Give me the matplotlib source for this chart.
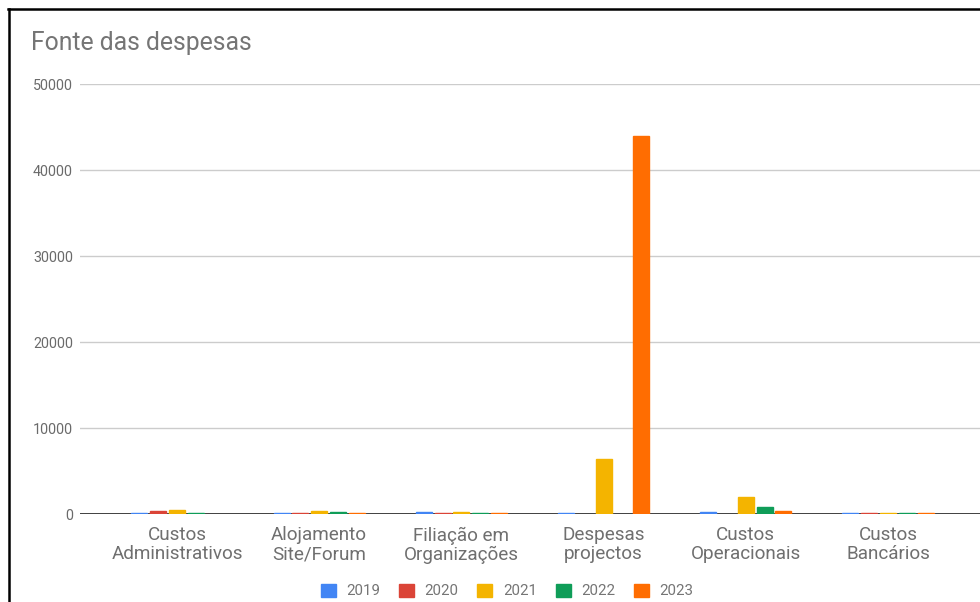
import numpy as np
import matplotlib.pyplot as plt
from matplotlib.patches import Patch
from matplotlib.lines import Line2D

plt.rcParams['font.family'] = ['Roboto', 'DejaVu Sans']

categories = ["Custos\nAdministrativos", "Alojamento\nSite/Forum", "Filiação em\nOrganizações",
              "Despesas\nprojectos", "Custos\nOperacionais", "Custos\nBancários"]
years = ["2019", "2020", "2021", "2022", "2023"]
nan = np.nan
v2019 = [60, 60, 200, 60, 200, 60]
v2020 = [350, 150, 60, nan, nan, 60]
v2021 = [450, 300, 180, 6400, 1950, 60]
v2022 = [60, 200, 60, nan, 780, 60]
v2023 = [nan, 170, 60, 43900, 310, 60]
series = [v2019, v2020, v2021, v2022, v2023]
colors = ["#4285F4", "#DB4437", "#F4B400", "#0F9D58", "#FF6D01"]

W, H = 980, 602
fig = plt.figure(figsize=(W / 100, H / 100), dpi=100)
ax = fig.add_axes([80 / W, 88 / H, 1 - 80 / W, 430 / H])

x = np.arange(len(categories))
slot = 0.132
for i, (vals, c) in enumerate(zip(series, colors)):
    ax.bar(x + (i - 2) * slot, vals, width=0.112, color=c, edgecolor=c, linewidth=1.0, zorder=3)

ax.set_ylim(0, 50000)
ax.set_xlim(-0.682, (980 - 177) / 142.2)
ax.set_yticks(range(0, 50001, 10000))
ax.set_yticklabels([str(t) for t in range(0, 50001, 10000)])
ax.yaxis.grid(True, color="#cccccc", linewidth=1, zorder=0)
ax.axhline(0, color="#333333", linewidth=1.3, zorder=2)
ax.set_xticks(x)
ax.set_xticklabels(categories, fontsize=13.6, color="#6f6f6f", linespacing=1.05)
ax.tick_params(axis="x", length=0, pad=9)
ax.tick_params(axis="y", length=0, pad=5, labelsize=10.3, labelcolor="#6a6a6a")
for s in ax.spines.values():
    s.set_visible(False)

fig.text(31 / W, 1 - 43 / H, "Fonte das despesas", fontsize=17.8, color="#757575", va="center", ha="left")

handles = [Patch(facecolor=c, edgecolor=c) for c in colors]
fig.legend(handles, years, loc="center", bbox_to_anchor=(507 / W, 1 - 591 / H), ncol=5,
           frameon=False, fontsize=10.8, handlelength=1.0, handleheight=1.0,
           handletextpad=0.7, columnspacing=1.25, labelcolor="#757575")

# screenshot frame
fig.add_artist(Line2D([8 / W, 1], [1 - 9 / H, 1 - 9 / H], color="black", linewidth=1.8, transform=fig.transFigure))
fig.add_artist(Line2D([9 / W, 9 / W], [0, 1 - 9 / H], color="black", linewidth=1.8, transform=fig.transFigure))

fig.savefig("out.png", dpi=100)
